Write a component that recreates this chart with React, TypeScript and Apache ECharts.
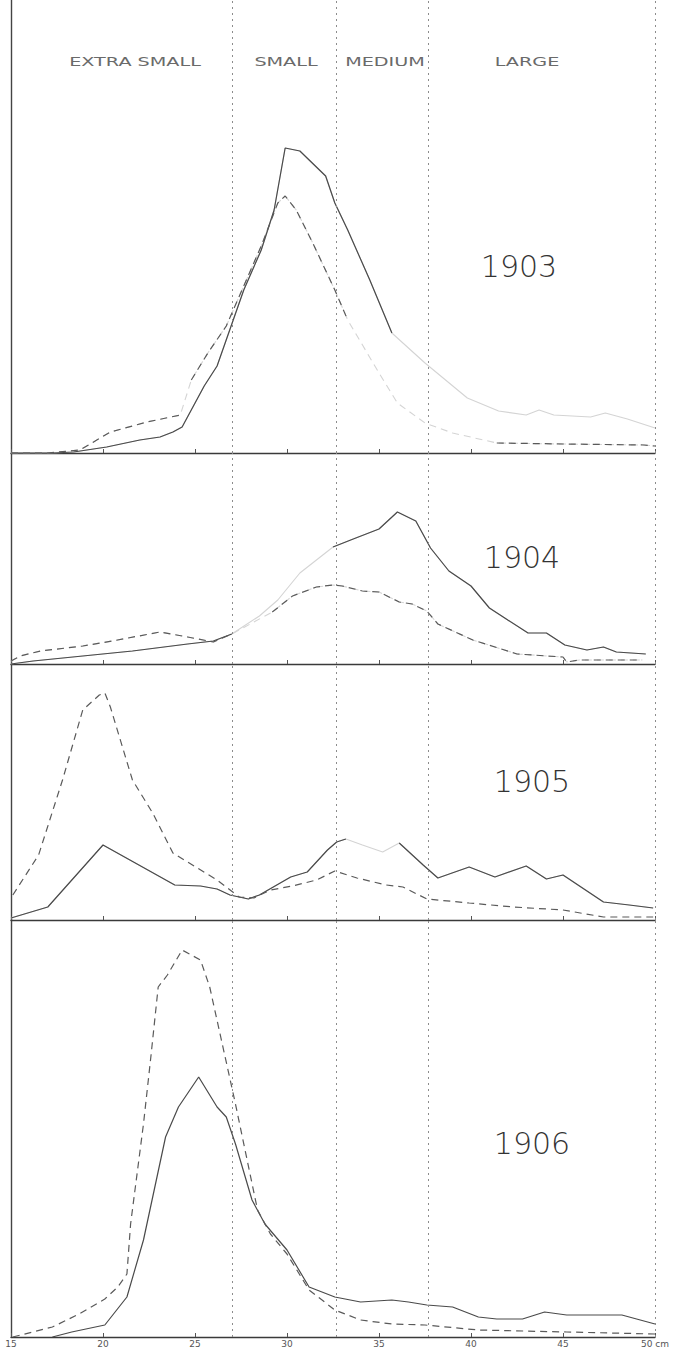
import React, { useEffect, useRef } from "react";
import * as echarts from "echarts";

// Length axis (cm) and size-class annotations
const lengthTicks = [15, 20, 25, 30, 35, 40, 45, 50];
const sizeClassLabels = ["EXTRA SMALL", "SMALL", "MEDIUM", "LARGE"];
const classBoundaries = [27.0, 32.66, 37.66, 50];
const years = ["1903", "1904", "1905", "1906"];

// 1903
const x1903Solid = [15, 17.3, 18.4, 20.2, 22, 23.1, 23.8, 24.3, 25.5, 26.2, 27.65, 28.6, 29.3, 29.9, 30.7, 32.1, 32.6, 33.3, 34.5, 35.7, 37.5, 39.8, 41.5, 43, 43.7, 44.5, 46.5, 47.3, 48.5, 50];
const y1903Solid = [0, 0, 0.1, 0.6, 1.3, 1.6, 2.1, 2.6, 6.7, 8.7, 16.3, 20.3, 24.3, 30.5, 30.2, 27.7, 25.0, 22.3, 17.3, 12.0, 9.0, 5.5, 4.2, 3.8, 4.3, 3.8, 3.6, 4.0, 3.4, 2.5];
const x1903Dashed = [15, 17, 18.75, 20.4, 22.4, 24.2, 24.8, 25.7, 26.7, 27.65, 28.6, 29.5, 29.9, 30.5, 31.4, 32.6, 33.3, 35, 36, 37.5, 39, 41.4, 45, 49.4, 50];
const y1903Dashed = [0, 0, 0.3, 2.1, 3.1, 3.8, 7.3, 10.0, 12.7, 16.7, 20.7, 25.0, 25.7, 24.3, 21.0, 16.3, 13.3, 8.0, 5.0, 3.0, 2.0, 1.0, 0.9, 0.8, 0.7];

// 1904
const x1904Solid = [15, 16.2, 18.9, 21.6, 24.6, 26, 27, 28.5, 29.5, 30.7, 32.5, 33.6, 35, 36, 37, 37.8, 38.8, 40, 41, 42, 43.1, 44.1, 45.1, 46.3, 47.2, 47.9, 49.5];
const y1904Solid = [0, 0.3, 0.8, 1.3, 2.0, 2.3, 3.0, 4.8, 6.4, 9.1, 11.7, 12.5, 13.5, 15.2, 14.3, 11.6, 9.3, 7.8, 5.6, 4.4, 3.1, 3.1, 1.9, 1.4, 1.7, 1.2, 1.0];
const x1904Dashed = [15, 15.5, 16.6, 18.9, 20.5, 23.1, 24.6, 26, 27, 28.2, 29.2, 30.3, 31.6, 32.5, 33, 34.1, 35, 36.1, 36.8, 37.6, 38.2, 40.1, 42.5, 45, 45.2, 45.9, 49.3];
const y1904Dashed = [0.3, 0.8, 1.3, 1.8, 2.3, 3.2, 2.7, 2.2, 3.0, 4.2, 5.2, 6.8, 7.7, 7.9, 7.8, 7.3, 7.2, 6.2, 6.0, 5.3, 4.0, 2.4, 1.0, 0.7, 0.2, 0.4, 0.4];

// 1905
const x1905Solid = [15, 17, 20, 23.9, 25.3, 26.2, 26.9, 27.9, 28.5, 30.2, 31.1, 32.2, 32.7, 33.2, 34.1, 35.2, 36.1, 37.4, 38.2, 39.9, 41.3, 43, 44.1, 45, 47.2, 48.6, 49.9];
const y1905Solid = [0.2, 1.3, 7.5, 3.5, 3.4, 3.1, 2.5, 2.1, 2.5, 4.3, 4.8, 7.0, 7.8, 8.1, 7.5, 6.8, 7.7, 5.5, 4.2, 5.3, 4.3, 5.4, 4.1, 4.5, 1.8, 1.5, 1.2];
const x1905Dashed = [15.1, 16.5, 17.8, 18.9, 19.8, 20.1, 20.4, 21.6, 22.7, 23.8, 24.6, 26.2, 27.4, 28.2, 29.1, 30.3, 31.6, 32.6, 33.8, 35.4, 36.3, 37.6, 39.9, 42.3, 45, 47.2, 49.9];
const y1905Dashed = [2.5, 6.5, 14.0, 21.0, 22.5, 22.7, 21.3, 14.0, 10.7, 6.7, 5.8, 4.0, 2.3, 2.2, 3.0, 3.4, 4.0, 4.9, 4.2, 3.5, 3.3, 2.1, 1.7, 1.3, 1.0, 0.3, 0.3];

// 1906
const x1906Solid = [17.25, 18.3, 20.1, 21.3, 22.2, 23.4, 24.1, 25.2, 26.2, 26.7, 27.2, 28.1, 28.8, 30, 31.2, 32.6, 34, 35.7, 36.6, 37.6, 39, 40.4, 41.4, 42.8, 44, 45.2, 46.6, 48.2, 50];
const y1906Solid = [0, 0.5, 1.2, 4.0, 9.7, 20.0, 23.0, 26.0, 23.0, 22.0, 19.3, 13.7, 11.3, 8.7, 5.0, 4.0, 3.5, 3.7, 3.5, 3.2, 3.0, 2.0, 1.8, 1.8, 2.5, 2.2, 2.2, 2.2, 1.3];
const x1906Dashed = [15.1, 17.25, 18.7, 20.1, 20.8, 21.3, 21.5, 22.2, 22.6, 23.0, 23.5, 24.3, 25.3, 25.8, 27.2, 28.4, 29.1, 30, 31.2, 32.6, 34, 35.7, 37.5, 40.4, 45.2, 50];
const y1906Dashed = [0, 1.0, 2.3, 3.8, 5.0, 6.3, 11.3, 21.3, 28.0, 35.0, 36.2, 38.7, 37.7, 35.0, 23.3, 12.7, 10.3, 8.3, 4.7, 2.7, 1.7, 1.3, 1.2, 0.7, 0.5, 0.3];

type Curve = { xs: number[]; ys: number[]; dashed: boolean; fades: number[][] };

const panelCurves: Curve[][] = [
  [
    { xs: x1903Solid, ys: y1903Solid, dashed: false, fades: [[35.7, 50]] },
    { xs: x1903Dashed, ys: y1903Dashed, dashed: true, fades: [[33.3, 41.4], [24.2, 24.8]] },
  ],
  [
    { xs: x1904Solid, ys: y1904Solid, dashed: false, fades: [[27, 32.5]] },
    { xs: x1904Dashed, ys: y1904Dashed, dashed: true, fades: [[27, 29.2]] },
  ],
  [
    { xs: x1905Solid, ys: y1905Solid, dashed: false, fades: [[33.2, 36.1]] },
    { xs: x1905Dashed, ys: y1905Dashed, dashed: true, fades: [] },
  ],
  [
    { xs: x1906Solid, ys: y1906Solid, dashed: false, fades: [] },
    { xs: x1906Dashed, ys: y1906Dashed, dashed: true, fades: [] },
  ],
];

// layout (pixels)
const W = 684;
const H = 1349;
const LEFT = 11;
const RIGHT = 29;
const panelTops = [0, 453, 664, 920];
const panelHeights = [453, 211, 256, 417];
const PX_PER_UNIT = 10;
const yearPos = [
  [519, 266],
  [522, 557],
  [532, 781],
  [532, 1143],
];
const classLabelPos = [135, 286, 385, 527];

function pairs(xs: number[], ys: number[]) {
  return xs.map((x, i) => [x, ys[i]]);
}

function darkData(xs: number[], ys: number[], fades: number[][]) {
  const out: any[] = [];
  for (let i = 0; i < xs.length; i++) {
    if (i > 0) {
      const mid = (xs[i - 1] + xs[i]) / 2;
      if (fades.some(([a, b]) => mid > a && mid < b)) out.push([mid, "-"]);
    }
    out.push([xs[i], ys[i]]);
  }
  return out;
}

export default function App() {
  const ref = useRef<HTMLDivElement>(null);

  useEffect(() => {
    if (!ref.current) return;
    const chart = echarts.init(ref.current, undefined, { renderer: "svg" });

    const grids = panelTops.map((top, i) => ({
      left: LEFT,
      right: RIGHT,
      top,
      height: panelHeights[i],
      outerBoundsMode: "none",
    }));

    const xAxes = panelTops.map((_, i) => ({
      type: "value",
      gridIndex: i,
      min: 15,
      max: 50,
      interval: 5,
      axisLine: { show: true, lineStyle: { color: "#3a3a3a", width: 1.4 } },
      axisTick: { show: true, inside: true, length: 4, lineStyle: { color: "#555", width: 1 } },
      axisLabel: {
        show: i === panelTops.length - 1,
        fontSize: 9,
        color: "#555",
        margin: 2,
        fontFamily: "DejaVu Sans",
        formatter: (v: number) => (lengthTicks.includes(v) ? (v === 50 ? "50 cm" : String(v)) : ""),
      },
      splitLine: { show: false },
    }));

    const yAxes = panelTops.map((_, i) => ({
      type: "value",
      gridIndex: i,
      min: 0,
      max: panelHeights[i] / PX_PER_UNIT,
      axisLine: { show: true, lineStyle: { color: "#444", width: 1.4 } },
      axisTick: { show: false },
      axisLabel: { show: false },
      splitLine: { show: false },
    }));

    const series: any[] = [];
    panelCurves.forEach((curves, pi) => {
      curves.forEach((c, ci) => {
        const dashType = c.dashed ? [7, 5] : "solid";
        if (c.fades.length) {
          series.push({
            type: "line",
            xAxisIndex: pi,
            yAxisIndex: pi,
            data: pairs(c.xs, c.ys),
            symbol: "none",
            silent: true,
            lineStyle: { color: "#d4d4d4", width: 1.1, type: dashType },
            z: 2,
          });
        }
        const s: any = {
          type: "line",
          xAxisIndex: pi,
          yAxisIndex: pi,
          data: c.fades.length ? darkData(c.xs, c.ys, c.fades) : pairs(c.xs, c.ys),
          symbol: "none",
          silent: true,
          connectNulls: false,
          lineStyle: { color: c.dashed ? "#5a5a5a" : "#4a4a4a", width: 1.2, type: dashType },
          z: 3,
        };
        if (ci === 0) {
          s.markLine = {
            silent: true,
            symbol: ["none", "none"],
            label: { show: false },
            lineStyle: { color: "#8c8c8c", width: 1, type: [2, 4] },
            data: classBoundaries.map((v) => ({ xAxis: v })),
          };
        }
        series.push(s);
      });
    });

    const graphics: any[] = [];
    years.forEach((y, i) => {
      graphics.push({
        type: "text",
        x: yearPos[i][0],
        y: yearPos[i][1],
        silent: true,
        style: {
          text: y,
          fontSize: 30,
          fontFamily: "DejaVu Sans",
          fontWeight: 200,
          fill: "#333",
          textAlign: "center",
          textVerticalAlign: "middle",
        },
      });
    });
    sizeClassLabels.forEach((t, i) => {
      graphics.push({
        type: "text",
        x: classLabelPos[i],
        y: 62,
        scaleX: 1.6,
        silent: true,
        style: {
          text: t,
          fontSize: 12,
          fontFamily: "DejaVu Sans",
          fill: "#6a6a6a",
          textAlign: "center",
          textVerticalAlign: "middle",
        },
      });
    });

    chart.setOption({
      animation: false,
      backgroundColor: "#ffffff",
      grid: grids,
      xAxis: xAxes,
      yAxis: yAxes,
      series,
      graphic: graphics,
    });

    return () => chart.dispose();
  }, []);

  return (
    <div
      ref={ref}
      style={{ position: "fixed", left: 0, top: 0, width: W, height: H, background: "#fff" }}
    />
  );
}
